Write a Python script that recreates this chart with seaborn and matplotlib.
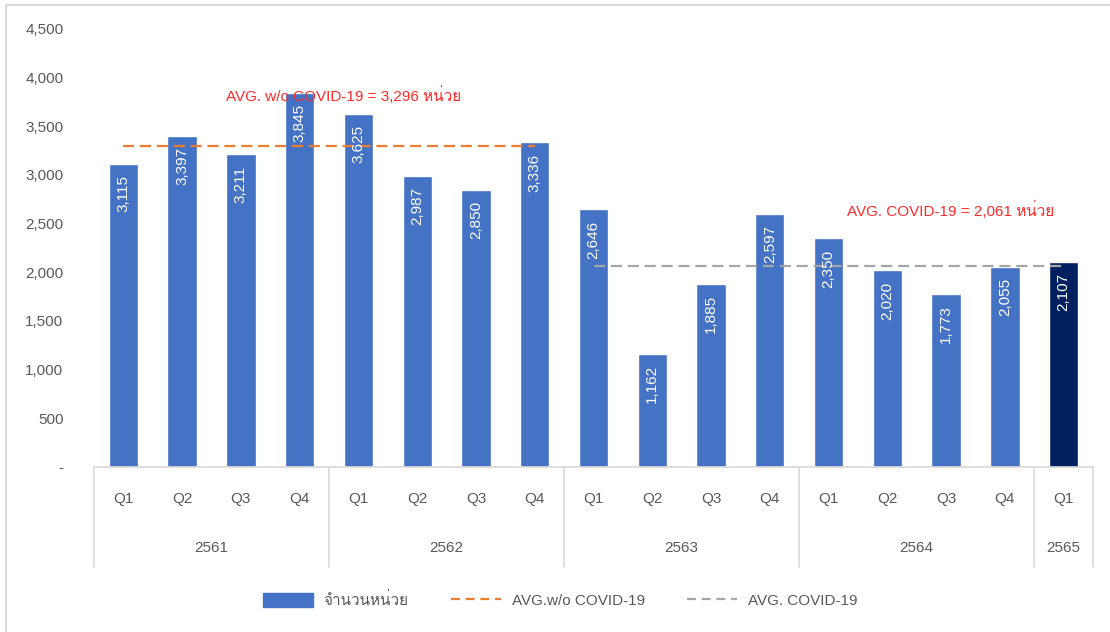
import matplotlib
matplotlib.use("Agg")
import matplotlib.pyplot as plt
from matplotlib import font_manager
from matplotlib.ft2font import FT2Font
from matplotlib.patches import Patch
from matplotlib.lines import Line2D
from matplotlib.ticker import FuncFormatter
import matplotlib.transforms as mtransforms
import pandas as pd
import seaborn as sns

# ---- data ----
years = ["2561", "2562", "2563", "2564", "2565"]
quarters_per_year = [4, 4, 4, 4, 1]
quarters = ["Q1", "Q2", "Q3", "Q4",
            "Q1", "Q2", "Q3", "Q4",
            "Q1", "Q2", "Q3", "Q4",
            "Q1", "Q2", "Q3", "Q4",
            "Q1"]
units = [3115, 3397, 3211, 3845,
         3625, 2987, 2850, 3336,
         2646, 1162, 1885, 2597,
         2350, 2020, 1773, 2055,
         2107]
avg_no_covid = 3296
avg_covid = 2061

bar_label = "จำนวนหน่วย"
avg_no_covid_label = "AVG.w/o COVID-19"
avg_covid_label = "AVG. COVID-19"
avg_no_covid_note = "AVG. w/o COVID-19 = 3,296 หน่วย"
avg_covid_note = "AVG. COVID-19 = 2,061 หน่วย"

# ---- style ----
sns.set_theme(style="white")


def find_thai_family():
    for f in font_manager.fontManager.ttflist:
        try:
            if 0x0E2B in FT2Font(f.fname).get_charmap():
                return f.name
        except Exception:
            continue
    return None


thai = find_thai_family()
families = ["Liberation Sans"] + ([thai] if thai else []) + ["DejaVu Sans"]
plt.rcParams["font.family"] = families

BLUE = "#4472C4"
NAVY = "#002060"
ORANGE = "#ED7D31"
GRAY_LINE = "#A5A5A5"
GRID = "#D9D9D9"
TEXT = "#595959"
RED = "#FF2A2A"
FS = 11

year_of_bar = [y for y, n in zip(years, quarters_per_year) for _ in range(n)]
df = pd.DataFrame({
    "key": [f"{y} {q}" for y, q in zip(year_of_bar, quarters)],
    "units": units,
    "latest": ["latest" if i == len(units) - 1 else "past" for i in range(len(units))],
})

fig = plt.figure(figsize=(11.10, 6.32), dpi=100)
ax = fig.add_axes([94 / 1110, 1 - 467 / 632, 999 / 1110, 438 / 632])

sns.barplot(data=df, x="key", y="units", hue="latest",
            palette={"past": BLUE, "latest": NAVY}, dodge=False,
            width=0.5, legend=False, ax=ax, saturation=1)

n = len(units)
ax.set_xlim(-0.5, n - 0.5)
ax.set_ylim(0, 4500)
ax.set_yticks(range(0, 4501, 500))
ax.yaxis.set_major_formatter(FuncFormatter(lambda v, p: "-" if v == 0 else f"{v:,.0f}"))
ax.tick_params(axis="y", length=0, pad=22, labelsize=FS, labelcolor=TEXT)
ax.set_xticks([])
ax.set_xlabel("")
ax.set_ylabel("")
for side in ["left", "right", "top"]:
    ax.spines[side].set_visible(False)
ax.spines["bottom"].set_color(GRID)
ax.spines["bottom"].set_linewidth(1.2)

# value labels inside the bars
for i, v in enumerate(units):
    ax.annotate(f"{v:,}", xy=(i, v), xytext=(0, -8), textcoords="offset points",
                rotation=90, ha="center", va="top", color="white", fontsize=FS)

# average lines
n_pre = quarters_per_year[0] + quarters_per_year[1]
ax.plot([0, n_pre - 1], [avg_no_covid, avg_no_covid], color=ORANGE, lw=1.6,
        dashes=(5, 2.6))
ax.plot([n_pre, n - 1], [avg_covid, avg_covid], color=GRAY_LINE, lw=1.6,
        dashes=(5, 2.6))
ax.text(3.75, 3822, avg_no_covid_note, color=RED, fontsize=FS, ha="center", va="center")
ax.text(14.07, 2640, avg_covid_note, color=RED, fontsize=FS, ha="center", va="center")

# two-level category axis
trans = mtransforms.blended_transform_factory(ax.transData, ax.transAxes)
for i, q in enumerate(quarters):
    ax.text(i, -0.073, q, transform=trans, ha="center", va="center",
            fontsize=FS, color=TEXT)
start = 0
bounds = [-0.5]
for y, cnt in zip(years, quarters_per_year):
    mid = start + (cnt - 1) / 2
    ax.text(mid, -0.185, y, transform=trans, ha="center", va="center",
            fontsize=FS, color=TEXT)
    start += cnt
    bounds.append(start - 0.5)
for b in bounds:
    ax.plot([b, b], [0, -0.228], transform=trans, color=GRID, lw=1.2, clip_on=False)

# legend
handles = [
    Patch(facecolor=BLUE, edgecolor=BLUE),
    Line2D([], [], color=ORANGE, lw=1.6, dashes=(4, 2.6)),
    Line2D([], [], color=GRAY_LINE, lw=1.6, dashes=(4, 2.6)),
]
leg = fig.legend(handles, [bar_label, avg_no_covid_label, avg_covid_label],
                 loc="center", bbox_to_anchor=(560 / 1110, 1 - 600 / 632),
                 ncol=3, frameon=False, fontsize=FS, handlelength=3.3,
                 handleheight=1.0, handletextpad=0.7, columnspacing=2.75)
for t in leg.get_texts():
    t.set_color(TEXT)

# outer frame (top and left edges)
fig.add_artist(Line2D([6 / 1110, 6 / 1110], [0, 1 - 5 / 632], transform=fig.transFigure,
                      color=GRID, lw=1.5))
fig.add_artist(Line2D([6 / 1110, 1], [1 - 5 / 632, 1 - 5 / 632], transform=fig.transFigure,
                      color=GRID, lw=1.5))

fig.savefig("out.png", dpi=100, facecolor="white")
